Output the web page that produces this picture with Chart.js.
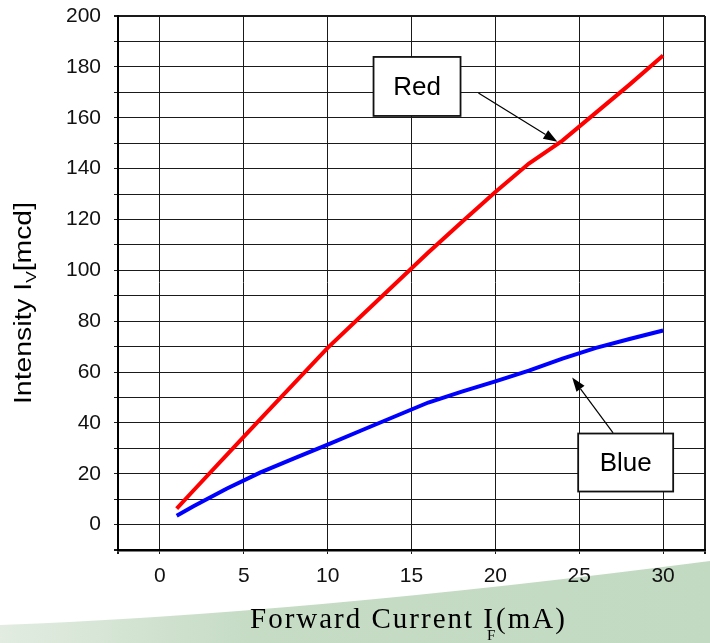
<!DOCTYPE html>
<html>
<head>
<meta charset="utf-8">
<script src="https://cdn.jsdelivr.net/npm/chart.js@4"></script>
<style>
  html, body { margin: 0; padding: 0; background: #fff; }
  #wrap { width: 710px; height: 643px; position: relative; }
</style>
</head>
<body>
<div id="wrap"><canvas id="ivChart"></canvas></div>
<script>
/* ---- data ---- */
const currentMA   = [1, 2, 4, 6, 8, 10, 12, 14, 16, 18, 20, 22, 24, 26, 28, 30];
const redMcd      = [6.3, 13.4, 27.5, 41.6, 55.5, 69.5, 82, 94.5, 107, 119, 130.8, 142, 151, 162, 173, 184.5];
const blueMcd     = [3.5, 7.2, 14.2, 20.5, 26, 31.4, 37, 42.5, 48, 52.3, 56.3, 60.5, 65.3, 69.5, 73, 76.3];

const xGridValues = [-2.5, 0, 5, 10, 15, 20, 25, 30, 32.5];
const xTickLabels = [0, 5, 10, 15, 20, 25, 30];
const yGridValues = [-10, 0, 10, 20, 30, 40, 50, 60, 70, 80, 90, 100,
                     110, 120, 130, 140, 150, 160, 170, 180, 190, 200];
const yTickLabels = [0, 20, 40, 60, 80, 100, 120, 140, 160, 180, 200];

/* callouts: label, box centre (data units), arrow start -> arrow tip (data units) */
const calloutText  = ['Red', 'Blue'];
const calloutBox   = [[15.33, 172.3], [27.77, 24.4]];
const calloutSize  = [[87, 59], [95, 58]];
const arrowFrom    = [[18.99, 169.7], [27.02, 36.1]];
const arrowTo      = [[23.7, 150.5], [24.58, 57.8]];

const SANS  = "'Liberation Sans', Arial, Helvetica, sans-serif";
const SERIF = "'Liberation Serif', 'Times New Roman', serif";

const toPoints = (xs, ys) => xs.map((x, i) => ({ x: x, y: ys[i] }));

/* ---- background wedge, callouts and axis titles ---- */
const decorations = {
  id: 'decorations',
  beforeDraw(chart) {
    const ctx = chart.ctx;
    const w = chart.width, h = chart.height;
    ctx.save();
    const g = ctx.createLinearGradient(0, 0, w, 0);
    g.addColorStop(0, '#e2ece1');
    g.addColorStop(0.35, '#c6dcc5');
    g.addColorStop(1, '#c3dac2');
    ctx.fillStyle = g;
    ctx.beginPath();
    ctx.moveTo(0, 625);
    ctx.quadraticCurveTo(300, 614, w, 561);
    ctx.lineTo(w, h);
    ctx.lineTo(0, h);
    ctx.closePath();
    ctx.fill();
    ctx.restore();
  },
  afterDatasetsDraw(chart) {
    const ctx = chart.ctx;
    const sx = chart.scales.x, sy = chart.scales.y;
    ctx.save();
    calloutText.forEach((txt, i) => {
      // arrow
      const x0 = sx.getPixelForValue(arrowFrom[i][0]), y0 = sy.getPixelForValue(arrowFrom[i][1]);
      const x1 = sx.getPixelForValue(arrowTo[i][0]),   y1 = sy.getPixelForValue(arrowTo[i][1]);
      const ang = Math.atan2(y1 - y0, x1 - x0);
      const headLen = 14, headW = 5;
      const bx = x1 - headLen * Math.cos(ang), by = y1 - headLen * Math.sin(ang);
      ctx.strokeStyle = '#000';
      ctx.lineWidth = 1.2;
      ctx.beginPath();
      ctx.moveTo(x0, y0);
      ctx.lineTo(bx, by);
      ctx.stroke();
      ctx.fillStyle = '#000';
      ctx.beginPath();
      ctx.moveTo(x1, y1);
      ctx.lineTo(bx + headW * Math.sin(ang), by - headW * Math.cos(ang));
      ctx.lineTo(bx - headW * Math.sin(ang), by + headW * Math.cos(ang));
      ctx.closePath();
      ctx.fill();

      // box
      const cx = sx.getPixelForValue(calloutBox[i][0]);
      const cy = sy.getPixelForValue(calloutBox[i][1]);
      const bw = calloutSize[i][0], bh = calloutSize[i][1];
      ctx.fillStyle = '#fff';
      ctx.fillRect(cx - bw / 2, cy - bh / 2, bw, bh);
      ctx.lineWidth = 1.8;
      ctx.strokeStyle = '#111';
      ctx.strokeRect(cx - bw / 2, cy - bh / 2, bw, bh);
      ctx.fillStyle = '#000';
      ctx.font = '26px ' + SANS;
      ctx.textAlign = 'center';
      ctx.textBaseline = 'middle';
      ctx.fillText(txt, cx, cy + 1);
    });
    ctx.restore();
  },
  afterDraw(chart) {
    const ctx = chart.ctx;
    ctx.save();
    ctx.fillStyle = '#000';
    ctx.textBaseline = 'alphabetic';
    ctx.textAlign = 'left';

    /* y title: Intensity I_V[mcd] */
    ctx.translate(31, 404);
    ctx.rotate(-Math.PI / 2);
    const big = '23px ' + SANS, small = '14px ' + SANS;
    ctx.font = big;
    const a = 'Intensity I', c = '[mcd]';
    const wa = ctx.measureText(a).width, wc = ctx.measureText(c).width;
    ctx.font = small;
    const wb = ctx.measureText('V').width;
    const k = 202 / (wa + wb + wc);
    ctx.scale(k, 1);
    ctx.font = big;
    ctx.fillText(a, 0, 0);
    ctx.font = small;
    ctx.fillText('V', wa, 5);
    ctx.font = big;
    ctx.fillText(c, wa + wb, 0);
    ctx.restore();

    /* x title: Forward Current I_F(mA) */
    ctx.save();
    ctx.fillStyle = '#000';
    ctx.textBaseline = 'alphabetic';
    ctx.textAlign = 'left';
    ctx.letterSpacing = '2px';
    ctx.font = '29px ' + SERIF;
    const p = 'Forward Current I';
    ctx.fillText(p, 250, 628);
    const xx = 250 + ctx.measureText(p).width;
    ctx.letterSpacing = '0px';
    ctx.font = '15px ' + SERIF;
    ctx.fillText('F', xx - 8, 640);
    ctx.letterSpacing = '2px';
    ctx.font = '29px ' + SERIF;
    ctx.fillText('(mA)', xx + 1, 628);
    ctx.restore();
  }
};

const edgeWidth = (ctx, lo, hi) => {
  const v = ctx.tick && ctx.tick.value;
  return (v === lo || v === hi) ? 2 : 1;
};

new Chart(document.getElementById('ivChart').getContext('2d'), {
  type: 'line',
  data: {
    datasets: [
      {
        label: 'Red',
        data: toPoints(currentMA, redMcd),
        borderColor: '#ff0000',
        borderWidth: 4,
        pointRadius: 0,
        tension: 0,
        fill: false
      },
      {
        label: 'Blue',
        data: toPoints(currentMA, blueMcd),
        borderColor: '#0000ff',
        borderWidth: 4,
        pointRadius: 0,
        tension: 0,
        fill: false
      }
    ]
  },
  options: {
    responsive: true,
    maintainAspectRatio: false,
    animation: false,
    layout: { padding: { top: 16, right: 5, left: 0, bottom: 0 } },
    plugins: {
      legend: { display: false },
      tooltip: { enabled: false }
    },
    scales: {
      x: {
        type: 'linear',
        min: -2.5,
        max: 32.5,
        afterBuildTicks: axis => { axis.ticks = xGridValues.map(v => ({ value: v })); },
        afterFit: scale => {
          scale.height = 93;
          scale.paddingLeft = 0;
          scale.paddingRight = 0;
        },
        grid: {
          color: '#1a1a1a',
          lineWidth: ctx => edgeWidth(ctx, -2.5, 32.5),
          tickLength: 4
        },
        border: { color: '#000', width: 2.5 },
        ticks: {
          color: '#111',
          font: { family: SANS, size: 21 },
          padding: 10,
          maxRotation: 0,
          autoSkip: false,
          callback: v => xTickLabels.includes(v) ? String(v) : ''
        }
      },
      y: {
        type: 'linear',
        min: -10,
        max: 200,
        afterBuildTicks: axis => { axis.ticks = yGridValues.map(v => ({ value: v })); },
        afterFit: scale => {
          scale.width = 118;
          scale.paddingTop = 0;
          scale.paddingBottom = 0;
        },
        grid: {
          color: '#1a1a1a',
          lineWidth: ctx => edgeWidth(ctx, -10, 200),
          tickLength: 4
        },
        border: { color: '#000', width: 2 },
        ticks: {
          color: '#111',
          font: { family: SANS, size: 21 },
          padding: 13,
          autoSkip: false,
          callback: v => yTickLabels.includes(v) ? String(v) : ''
        }
      }
    }
  },
  plugins: [decorations]
});
</script>
</body>
</html>
